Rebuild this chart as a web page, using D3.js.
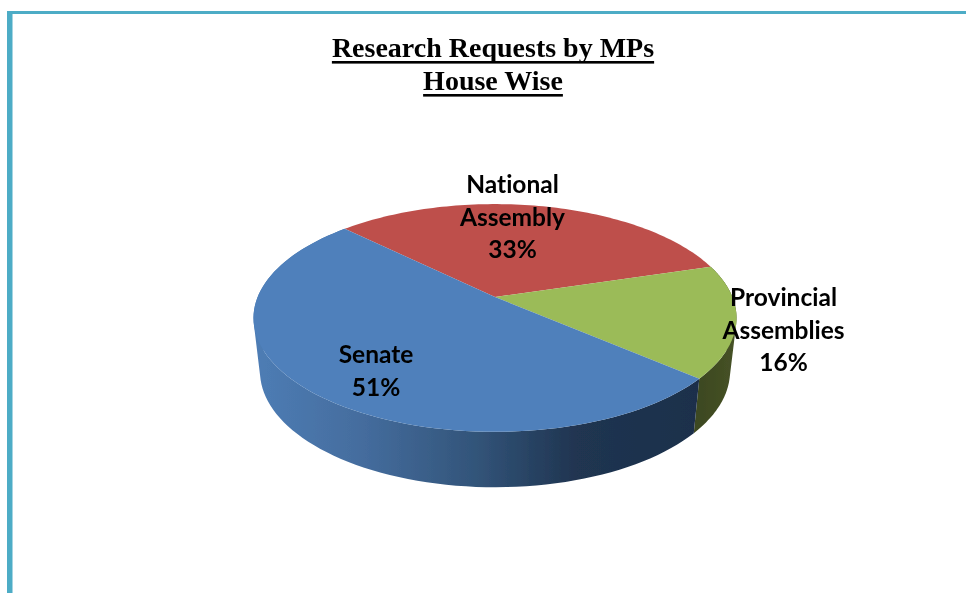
<!DOCTYPE html>
<html>
<head>
<meta charset="utf-8">
<script src="https://cdn.jsdelivr.net/npm/d3@7"></script>
<style>
	html, body { margin: 0; padding: 0; background: #fff; overflow: hidden; }
	svg { display: block; }
</style>
</head>
<body>
<div id="chart"></div>
<script>
(function (d3) {
	'use strict';

	// values, National Assembly comes first clockwise
	var categories = ['National Assembly', 'Provincial Assemblies', 'Senate'];
	var shares = [33, 16, 51];
	var faceColors = ['#BE4F4C', '#9BBB59', '#4F80BB'];
	var labelLines = [['National', 'Assembly', '33%'], ['Provincial', 'Assemblies', '16%'], ['Senate', '51%']];
	var titleLines = ['Research Requests by MPs', 'House Wise'];

	var width = 966, height = 593;
	var frameColor = '#4DACC6';

	// the pie is a tilted disc seen in perspective, so the slices meet above the ellipse middle
	var tilt = 0.184;
	var topFace = {cx: 495, cy: 297, rx: 237.4, ry: 110};
	var baseFace = {cx: 495, cy: 350, rx: 231, ry: 112};
	var startAngle = -45.6 * Math.PI / 180;

	var labelPos = [{x: 512.5, y: 193}, {x: 783.5, y: 306}, {x: 376, y: 363}];

	var svg = d3.select('#chart').append('svg')
		.attr('width', width)
		.attr('height', height);

	var defs = svg.append('defs');

	function addGradient(id, x1, x2, stops) {
		var grad = defs.append('linearGradient')
			.attr('id', id)
			.attr('gradientUnits', 'userSpaceOnUse')
			.attr('x1', x1).attr('x2', x2)
			.attr('y1', 0).attr('y2', 0);
		stops.forEach(function (s) {
			grad.append('stop').attr('offset', s[0]).attr('stop-color', s[1]);
		});
	}

	addGradient('wallBlue', 253, 700, [[0, '#4E7DB5'], [0.25, '#446C9D'], [0.5, '#325479'], [0.72, '#203551'], [1, '#1C2F4B']]);
	addGradient('wallGreen', 694, 736, [[0, '#3C4720'], [1, '#465226']]);

	// the source is a scaled screenshot, edges are a little soft
	defs.append('filter').attr('id', 'soft')
		.append('feGaussianBlur').attr('stdDeviation', 0.45);

	// frame
	svg.append('rect').attr('x', 7).attr('y', 11).attr('width', width - 7).attr('height', 3).attr('fill', frameColor);
	svg.append('rect').attr('x', 7).attr('y', 11).attr('width', 5.5).attr('height', height - 11).attr('fill', frameColor);

	function project(face, angle) {
		var x = Math.sin(angle), y = -Math.cos(angle);
		var w = 1 - tilt * y;
		return [face.cx + face.rx * x / w, face.cy + face.ry * y / w];
	}

	function arcPoints(face, a0, a1) {
		var n = 90, step = (a1 - a0) / n;
		return d3.range(n + 1).map(function (i) {
			return project(face, a0 + i * step);
		});
	}

	var line = d3.line();

	// wall as a strip of small quads, the hull keeps them all wound the same way
	function wallPath(a0, a1) {
		var upper = arcPoints(topFace, a0, a1);
		var lower = arcPoints(baseFace, a0, a1);
		var d = '';
		for (var i = 0; i < upper.length - 1; i++) {
			d += line(d3.polygonHull([upper[i], upper[i + 1], lower[i + 1], lower[i]])) + 'Z';
		}
		return d;
	}

	var arcs = d3.pie().sort(null).startAngle(startAngle).endAngle(startAngle + 2 * Math.PI)(shares);

	var chart = svg.append('g').attr('filter', 'url(#soft)');

	// side walls, only green and blue face the viewer
	var wallFill = [null, 'url(#wallGreen)', 'url(#wallBlue)'];
	chart.append('g').selectAll('path')
		.data(arcs.filter(function (d) { return wallFill[d.index]; }))
		.join('path')
		.attr('fill', function (d) { return wallFill[d.index]; })
		.attr('d', function (d) {
			return wallPath(d.startAngle, d.endAngle);
		});

	// top face
	chart.append('g').selectAll('path')
		.data(arcs)
		.join('path')
		.attr('fill', function (d) { return faceColors[d.index]; })
		.attr('d', function (d) {
			var pts = [[topFace.cx, topFace.cy]].concat(arcPoints(topFace, d.startAngle, d.endAngle));
			return line(pts) + 'Z';
		});

	// slice labels
	chart.append('g').selectAll('text')
		.data(categories)
		.join('text')
		.attr('text-anchor', 'middle')
		.attr('font-family', 'Lato, sans-serif')
		.attr('font-weight', 700)
		.attr('font-size', 24.5)
		.style('font-variant-ligatures', 'none')
		.attr('fill', '#000')
		.each(function (d, i) {
			d3.select(this).selectAll('tspan')
				.data(labelLines[i])
				.join('tspan')
				.attr('x', labelPos[i].x)
				.attr('y', function (t, j) { return labelPos[i].y + j * 32.7; })
				.text(function (t) { return t; });
		});

	// title with its underline
	var titleBase = [57, 90];
	titleLines.forEach(function (t, i) {
		var txt = chart.append('text')
			.attr('x', 493)
			.attr('y', titleBase[i])
			.attr('text-anchor', 'middle')
			.attr('font-family', '"Liberation Serif", serif')
			.attr('font-weight', 700)
			.attr('font-size', 28)
			.attr('fill', '#000')
			.text(t);
		var len = txt.node().getComputedTextLength();
		chart.append('rect')
			.attr('x', 493 - len / 2)
			.attr('y', titleBase[i] + 4)
			.attr('width', len)
			.attr('height', 2.6)
			.attr('fill', '#000');
	});
})(d3);
</script>
</body>
</html>
